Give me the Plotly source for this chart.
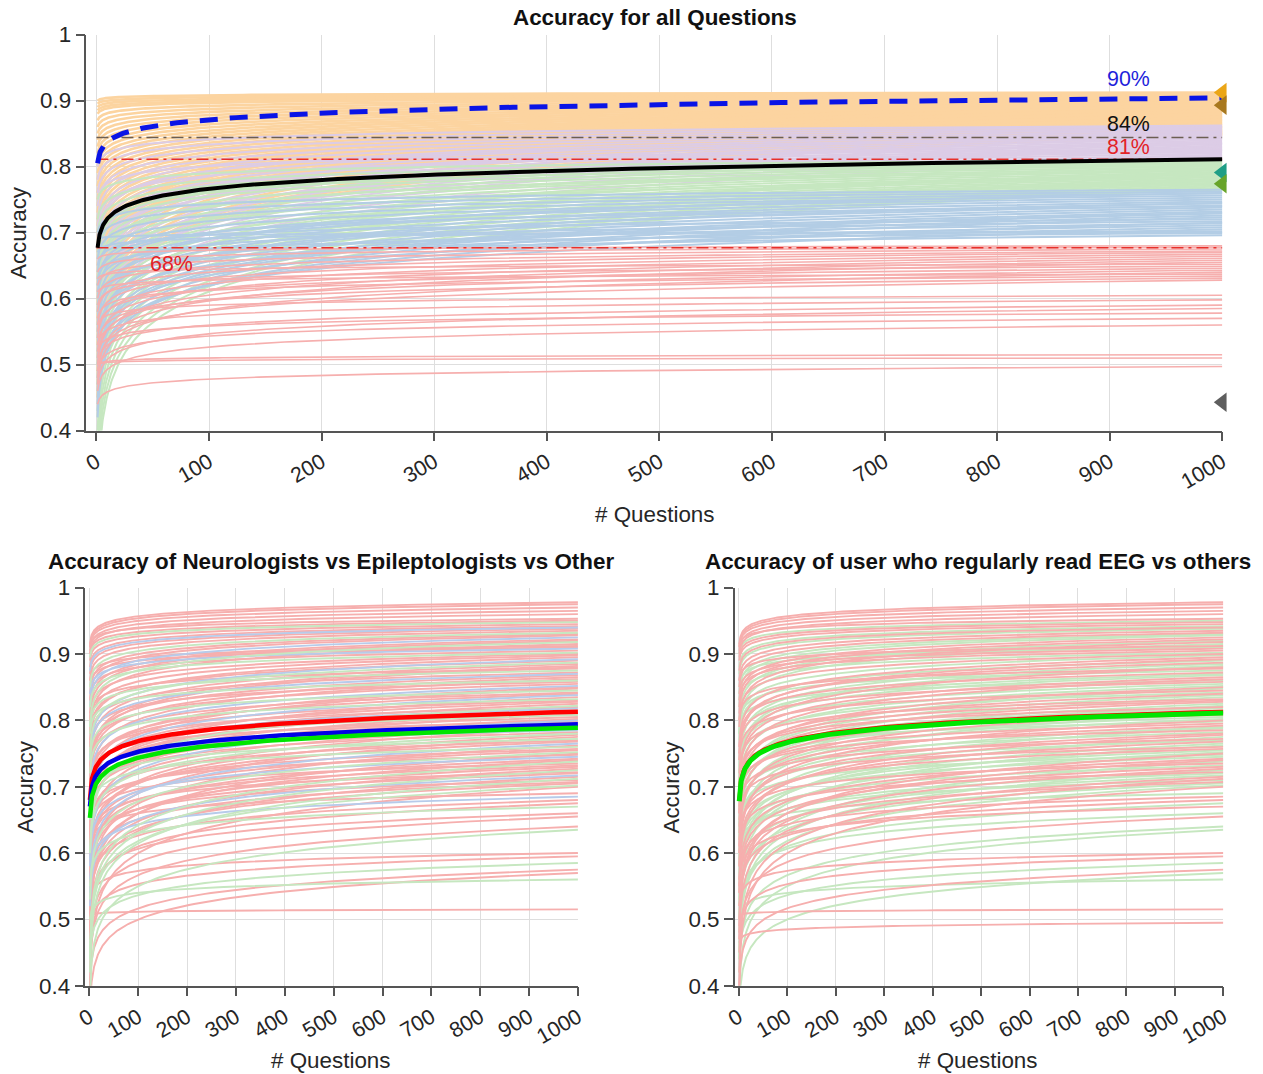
import numpy as np
import plotly.graph_objects as go

# ---------------------------------------------------------------------------
# Data
# ---------------------------------------------------------------------------
N_MAX = 1000
x_ticks = [0, 100, 200, 300, 400, 500, 600, 700, 800, 900, 1000]
y_ticks = [0.4, 0.5, 0.6, 0.7, 0.8, 0.9, 1.0]
y_tick_text = ["0.4", "0.5", "0.6", "0.7", "0.8", "0.9", "1"]

# Top panel: per-user fitted curves, given as accuracy at question 1 and at question 1000,
# grouped by the final accuracy band they fall into.
orange_start = [0.90, 0.895, 0.89, 0.885, 0.88, 0.87, 0.86, 0.85, 0.84, 0.83, 0.82, 0.81,
                0.80, 0.79, 0.78, 0.77, 0.76, 0.75, 0.74, 0.73, 0.72, 0.71, 0.70, 0.69,
                0.68, 0.67, 0.66, 0.65, 0.64, 0.63, 0.62, 0.61, 0.60, 0.59, 0.58, 0.57,
                0.56, 0.55, 0.54, 0.53, 0.52, 0.51, 0.50, 0.49, 0.48, 0.47, 0.46, 0.45]
orange_end = [0.912, 0.910, 0.908, 0.906, 0.905, 0.903, 0.901, 0.899, 0.897, 0.895, 0.893, 0.891,
              0.889, 0.887, 0.885, 0.883, 0.881, 0.879, 0.877, 0.875, 0.873, 0.871, 0.869, 0.867,
              0.865, 0.863, 0.861, 0.859, 0.857, 0.855, 0.853, 0.851, 0.849, 0.848, 0.905, 0.900,
              0.895, 0.890, 0.885, 0.880, 0.875, 0.870, 0.865, 0.860, 0.855, 0.852, 0.850, 0.848]

purple_start = [0.80, 0.78, 0.76, 0.74, 0.72, 0.70, 0.68, 0.66, 0.64, 0.62, 0.60, 0.58, 0.56, 0.54, 0.52,
                0.50, 0.48, 0.46, 0.75, 0.71, 0.67, 0.63, 0.59, 0.55, 0.51, 0.47, 0.44, 0.69, 0.65, 0.61]
purple_end = [0.862, 0.860, 0.858, 0.856, 0.854, 0.852, 0.850, 0.848, 0.846, 0.844, 0.842, 0.840, 0.838,
              0.836, 0.834, 0.832, 0.830, 0.828, 0.826, 0.824, 0.822, 0.820, 0.818, 0.816, 0.814, 0.812,
              0.810, 0.845, 0.835, 0.825]

green_start = [0.75, 0.72, 0.70, 0.68, 0.66, 0.64, 0.62, 0.60, 0.58, 0.56, 0.54, 0.52, 0.50, 0.48, 0.46,
               0.44, 0.42, 0.40, 0.38, 0.36, 0.34, 0.32, 0.30, 0.67, 0.63, 0.59, 0.55, 0.51, 0.47, 0.43]
green_end = [0.810, 0.808, 0.806, 0.804, 0.802, 0.800, 0.798, 0.796, 0.794, 0.792, 0.790, 0.788, 0.786,
             0.784, 0.782, 0.780, 0.778, 0.776, 0.774, 0.772, 0.770, 0.768, 0.766, 0.805, 0.795, 0.785,
             0.775, 0.765, 0.790, 0.780]

blue_start = [0.70, 0.68, 0.66, 0.64, 0.62, 0.60, 0.58, 0.56, 0.54, 0.52, 0.50, 0.48, 0.46, 0.44, 0.42,
              0.65, 0.61, 0.57, 0.53, 0.49, 0.45, 0.67, 0.63, 0.59, 0.55, 0.51, 0.47, 0.43, 0.69, 0.62]
blue_end = [0.765, 0.762, 0.759, 0.756, 0.753, 0.750, 0.747, 0.744, 0.741, 0.738, 0.735, 0.732, 0.729,
            0.726, 0.723, 0.720, 0.717, 0.714, 0.711, 0.708, 0.705, 0.702, 0.699, 0.696, 0.760, 0.745,
            0.730, 0.715, 0.700, 0.740]

red_start = [0.66, 0.64, 0.62, 0.60, 0.58, 0.56, 0.54, 0.52, 0.50, 0.48, 0.63, 0.59, 0.55, 0.51, 0.47,
             0.61, 0.57, 0.53, 0.49, 0.56, 0.53, 0.50, 0.47, 0.52, 0.49, 0.46, 0.50, 0.50, 0.44]
red_end = [0.680, 0.678, 0.675, 0.672, 0.670, 0.667, 0.664, 0.661, 0.658, 0.655, 0.652, 0.649, 0.646,
           0.643, 0.640, 0.637, 0.634, 0.631, 0.628, 0.605, 0.598, 0.590, 0.585, 0.578, 0.570, 0.560,
           0.515, 0.510, 0.497]

# Summary curves of the top panel
mean_start, mean_end = 0.677, 0.811
best_start, best_end = 0.805, 0.904
ref_level = 0.844

# Markers at the right edge of the top panel
marker_values = [0.912, 0.893, 0.791, 0.774, 0.443]
marker_colors = ["#EBA617", "#A8781E", "#1F9E86", "#67A42A", "#5E5E5E"]

# Bottom panels: per-user curves (accuracy at question 1 and at question 1000),
# specialty (N neurologist, E epileptologist, O other, - not given) and whether the
# user regularly reads EEG (1) or not (0).
user_start = [
    0.915, 0.912, 0.910, 0.905, 0.900,
    0.910, 0.900, 0.895, 0.890, 0.880, 0.875, 0.870, 0.860, 0.850, 0.840,
    0.830, 0.820, 0.810, 0.800, 0.790, 0.780, 0.860, 0.850, 0.840, 0.830,
    0.820, 0.800, 0.780, 0.760, 0.740, 0.770, 0.750, 0.730, 0.710, 0.700,
    0.800, 0.790, 0.760, 0.740, 0.720, 0.700, 0.680, 0.780, 0.750, 0.720,
    0.690, 0.660, 0.640, 0.740, 0.710, 0.680, 0.650, 0.620, 0.720, 0.690,
    0.660, 0.630, 0.600, 0.700, 0.670, 0.640, 0.610, 0.580, 0.690, 0.660,
    0.620, 0.580, 0.700, 0.670, 0.630, 0.590, 0.550, 0.680, 0.640, 0.600,
    0.560, 0.520, 0.660, 0.620, 0.580, 0.540, 0.500, 0.650, 0.610, 0.570,
    0.530, 0.480, 0.630, 0.590, 0.550, 0.500, 0.450, 0.620, 0.580, 0.540,
    0.490, 0.440, 0.600, 0.560, 0.520, 0.470, 0.420, 0.580, 0.540, 0.500,
    0.450, 0.400, 0.600, 0.560, 0.520, 0.480, 0.550, 0.500, 0.450, 0.420,
    0.380, 0.520, 0.470, 0.440, 0.400, 0.360, 0.500, 0.505, 0.465,
]
user_end = [
    0.978, 0.975, 0.970, 0.965, 0.960,
    0.953, 0.950, 0.948, 0.945, 0.942, 0.940, 0.938, 0.935, 0.932, 0.930,
    0.928, 0.925, 0.922, 0.920, 0.918, 0.915, 0.912, 0.910, 0.908, 0.905,
    0.902, 0.900, 0.898, 0.895, 0.892, 0.890, 0.887, 0.885, 0.882, 0.880,
    0.878, 0.875, 0.872, 0.870, 0.868, 0.865, 0.862, 0.860, 0.858, 0.855,
    0.852, 0.850, 0.848, 0.845, 0.842, 0.840, 0.838, 0.835, 0.832, 0.830,
    0.828, 0.825, 0.822, 0.820, 0.818, 0.815, 0.812, 0.810, 0.808, 0.805,
    0.802, 0.800, 0.798, 0.795, 0.792, 0.790, 0.788, 0.785, 0.782, 0.780,
    0.778, 0.775, 0.772, 0.770, 0.768, 0.765, 0.762, 0.760, 0.757, 0.755,
    0.752, 0.750, 0.748, 0.745, 0.742, 0.740, 0.738, 0.735, 0.732, 0.730,
    0.727, 0.725, 0.722, 0.720, 0.717, 0.715, 0.712, 0.710, 0.707, 0.705,
    0.702, 0.700, 0.690, 0.685, 0.680, 0.675, 0.670, 0.660, 0.655, 0.640,
    0.635, 0.600, 0.595, 0.585, 0.575, 0.570, 0.560, 0.515, 0.495,
]
user_specialty = [
    "N", "N", "N", "N", "N",
    "N", "N", "O", "N", "N", "E", "N", "N", "O", "N",
    "N", "E", "N", "N", "O", "N", "N", "N", "E", "N",
    "O", "N", "N", "N", "E", "N", "O", "N", "N", "N",
    "N", "O", "N", "E", "N", "N", "N", "O", "N", "N",
    "E", "N", "N", "O", "N", "N", "E", "N", "O", "N",
    "N", "N", "O", "N", "E", "N", "N", "N", "O", "N",
    "N", "E", "N", "O", "N", "N", "N", "E", "N", "O",
    "N", "N", "O", "N", "N", "E", "N", "O", "N", "N",
    "O", "N", "N", "E", "N", "N", "O", "N", "N", "N",
    "N", "O", "N", "N", "E", "N", "O", "N", "N", "N",
    "O", "N", "N", "E", "N", "N", "O", "N", "N", "N",
    "O", "N", "N", "O", "N", "N", "O", "N", "-",
]
user_reads_eeg = [
    1, 1, 1, 1, 1,
    1, 0, 1, 1, 0, 1, 0, 1, 1, 0,
    0, 1, 1, 0, 1, 0, 1, 0, 1, 1,
    0, 1, 0, 1, 1, 0, 1, 0, 0, 1,
    1, 0, 1, 0, 0, 1, 1, 0, 1, 0,
    0, 1, 0, 1, 0, 1, 0, 0, 1, 1,
    1, 0, 0, 1, 0, 1, 1, 0, 1, 0,
    0, 1, 0, 1, 1, 0, 0, 1, 0, 1,
    1, 0, 1, 0, 1, 0, 0, 1, 1, 0,
    0, 1, 0, 0, 1, 1, 0, 1, 0, 1,
    1, 0, 1, 0, 0, 1, 1, 0, 1, 0,
    0, 1, 0, 1, 1, 0, 1, 0, 1, 0,
    0, 1, 1, 0, 1, 0, 0, 1, 1,
]

# Group mean curves of the bottom panels (start, end)
specialty_means = {"N": (0.680, 0.813), "E": (0.670, 0.794), "O": (0.653, 0.789)}
eeg_means = {1: (0.679, 0.813), 0: (0.678, 0.811)}

# ---------------------------------------------------------------------------
# Helpers
# ---------------------------------------------------------------------------
n_q = np.geomspace(1, N_MAX, 140)


def learning_curve(start, end):
    """Log-linear learning curve between accuracy at question 1 and at N_MAX."""
    return start + (end - start) * np.log(n_q) / np.log(N_MAX)


def bundle(starts, ends):
    xs, ys = [], []
    for s, e in zip(starts, ends):
        xs.extend(n_q.tolist())
        xs.append(None)
        ys.extend(learning_curve(s, e).tolist())
        ys.append(None)
    return xs, ys


FONT = "Liberation Sans, Arial, Helvetica, sans-serif"
INK = "#262626"
GRID = "#DEDEDE"

C_ORANGE = "#FCD4A0"
C_PURPLE = "#DCCCE6"
C_GREEN = "#C6E7C0"
C_BLUE = "#B3CDE5"
C_RED = "#F6AFAE"

# Layout is specified in screen pixels of the final picture; these factors map
# them onto the figure's own pixel grid.
W, H = 1263, 1074
SX, OX = 0.9867, 9.5
SY, OY = 0.9765, 12.5
FS = 1.02  # font size scale that goes with the grid mapping


def px_x(p):
    return ((p - OX) / SX) / W


def px_y(p):
    return 1 - ((p - OY) / SY) / H


def fs(size):
    return round(size * FS, 1)


fig = go.Figure()


def add_bundle(starts, ends, color, xa, ya, width=1.0):
    xs, ys = bundle(starts, ends)
    fig.add_trace(go.Scatter(x=xs, y=ys, mode="lines", xaxis=xa, yaxis=ya,
                             line=dict(color=color, width=width),
                             hoverinfo="skip", showlegend=False))


def add_line(x, y, xa, ya, color, width, dash="solid"):
    fig.add_trace(go.Scatter(x=x, y=y, mode="lines", xaxis=xa, yaxis=ya,
                             line=dict(color=color, width=width, dash=dash),
                             hoverinfo="skip", showlegend=False))


# ---------------------------------------------------------------------------
# Top panel: all questions
# ---------------------------------------------------------------------------
add_bundle(orange_start, orange_end, C_ORANGE, "x", "y", 2.6)
add_bundle(purple_start, purple_end, C_PURPLE, "x", "y", 2.0)
add_bundle(green_start, green_end, C_GREEN, "x", "y", 2.0)
add_bundle(blue_start, blue_end, C_BLUE, "x", "y", 2.0)
add_bundle(red_start, red_end, C_RED, "x", "y", 1.6)

add_line([0, N_MAX], [ref_level, ref_level], "x", "y", "#6B5E52", 1.6, "12px,5px,3px,5px")
add_line([0, N_MAX], [mean_end, mean_end], "x", "y", "#E8302A", 1.6, "12px,5px,3px,5px")
add_line([0, N_MAX], [mean_start, mean_start], "x", "y", "#E8302A", 1.6, "12px,5px,3px,5px")

add_line(n_q, learning_curve(mean_start, mean_end), "x", "y", "#000000", 4)
add_line(n_q, learning_curve(best_start, best_end), "x", "y", "#0A14E6", 5, "18px,12px")

fig.add_trace(go.Scatter(x=[N_MAX] * len(marker_values), y=marker_values, mode="markers",
                         xaxis="x", yaxis="y", cliponaxis=False,
                         marker=dict(symbol="triangle-left", size=17, color=marker_colors,
                                     line=dict(width=0)),
                         hoverinfo="skip", showlegend=False))

label_specs = [
    (917, best_end + 0.029, best_end, "#1F1FDB"),
    (917, ref_level + 0.020, ref_level, "#111111"),
    (917, mean_end + 0.018, mean_end, "#E32227"),
    (67, mean_start - 0.025, mean_start, "#E32227"),
]
for lx, ly, val, col in label_specs:
    fig.add_annotation(x=lx, y=ly, xref="x", yref="y", text=f"{round(val * 100)}%",
                       showarrow=False, font=dict(family=FONT, size=fs(21), color=col))

# ---------------------------------------------------------------------------
# Bottom-left: by specialty
# ---------------------------------------------------------------------------
spec_colors = {"N": C_RED, "E": "#B7CBEA", "O": C_GREEN}
for code in ["N", "E", "O"]:
    idx = [i for i, c in enumerate(user_specialty) if c == code]
    add_bundle([user_start[i] for i in idx], [user_end[i] for i in idx],
               spec_colors[code], "x2", "y2", 1.9)

thick_spec = {"N": "#FF0000", "E": "#0000E6", "O": "#00E600"}
for code in ["N", "E", "O"]:
    s, e = specialty_means[code]
    add_line(n_q, learning_curve(s, e), "x2", "y2", thick_spec[code], 4.5)

# ---------------------------------------------------------------------------
# Bottom-right: regular EEG readers vs others
# ---------------------------------------------------------------------------
eeg_colors = {1: C_RED, 0: C_GREEN}
for flag in [0, 1]:
    idx = [i for i, f in enumerate(user_reads_eeg) if f == flag]
    add_bundle([user_start[i] for i in idx], [user_end[i] for i in idx],
               eeg_colors[flag], "x3", "y3", 1.9)

s, e = eeg_means[1]
add_line(n_q, learning_curve(s, e), "x3", "y3", "#FF0000", 4)
s, e = eeg_means[0]
add_line(n_q, learning_curve(s, e), "x3", "y3", "#00E600", 5)

# ---------------------------------------------------------------------------
# Axes and layout
# ---------------------------------------------------------------------------
def x_axis(domain, left):
    return dict(domain=domain, range=[left, N_MAX], tickvals=x_ticks,
                ticktext=[str(t) for t in x_ticks], tickangle=-30,
                showgrid=True, gridcolor=GRID, gridwidth=1, zeroline=False,
                showline=True, linecolor="#555555", linewidth=1.5,
                ticks="outside", ticklen=9, tickcolor="#555555", tickwidth=1.5,
                tickfont=dict(family=FONT, size=fs(21), color=INK), mirror=False)


def y_axis(domain, anchor):
    return dict(domain=domain, range=[0.4, 1.0], tickvals=y_ticks, ticktext=y_tick_text,
                anchor=anchor,
                showgrid=True, gridcolor=GRID, gridwidth=1, zeroline=False,
                showline=True, linecolor="#555555", linewidth=1.5,
                ticks="outside", ticklen=9, tickcolor="#555555", tickwidth=1.5,
                tickfont=dict(family=FONT, size=fs(22), color=INK), mirror=False)


top_x = [px_x(86), px_x(1223)]
top_y = [px_y(431), px_y(35)]
bl_x = [px_x(85), px_x(578)]
br_x = [px_x(735), px_x(1224)]
bot_y = [px_y(986), px_y(588)]

fig.update_layout(
    width=W, height=H, margin=dict(l=0, r=0, t=0, b=0),
    paper_bgcolor="white", plot_bgcolor="white", showlegend=False,
    xaxis=dict(**x_axis(top_x, -8.9), anchor="y"),
    yaxis=y_axis(top_y, "x"),
    xaxis2=dict(**x_axis(bl_x, -8.2), anchor="y2"),
    yaxis2=y_axis(bot_y, "x2"),
    xaxis3=dict(**x_axis(br_x, -8.2), anchor="y3"),
    yaxis3=y_axis(bot_y, "x3"),
)

texts = [
    ("Accuracy for all Questions", 655, 18, 22, True, 0),
    ("Accuracy of Neurologists vs Epileptologists vs Other", 331, 562, 22, True, 0),
    ("Accuracy of user who regularly read EEG vs others", 978, 562, 22, True, 0),
    ("# Questions", 655, 515, 22, False, 0),
    ("# Questions", 331, 1061, 22, False, 0),
    ("# Questions", 978, 1061, 22, False, 0),
    ("Accuracy", 18, 233, 22, False, -90),
    ("Accuracy", 25, 787, 22, False, -90),
    ("Accuracy", 672, 787, 22, False, -90),
]
for txt, cx, cy, size, bold, ang in texts:
    fig.add_annotation(x=px_x(cx), y=px_y(cy), xref="paper", yref="paper",
                       text=f"<b>{txt}</b>" if bold else txt, showarrow=False,
                       textangle=ang, xanchor="center", yanchor="middle",
                       font=dict(family=FONT, size=fs(size), color="#111111" if bold else INK))

fig.write_html("out.html")
